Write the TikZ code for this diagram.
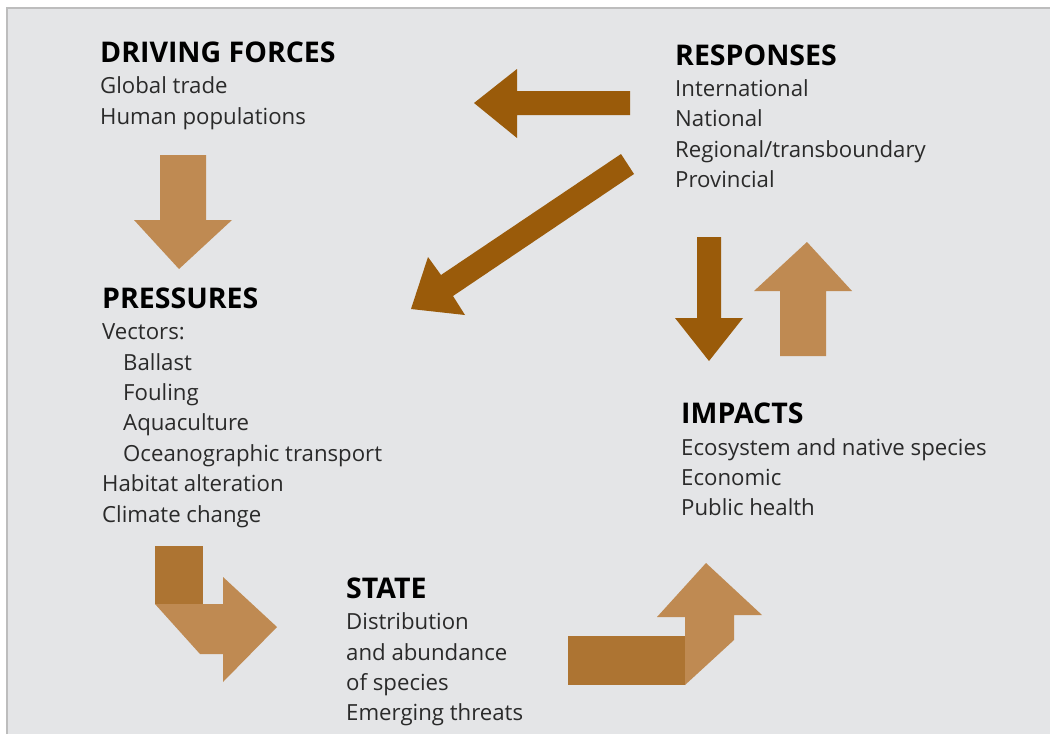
\documentclass[tikz,border=0pt]{standalone}
\usepackage{fontspec}
\setmainfont{Open Sans}
\definecolor{bg}{HTML}{E4E5E7}
\definecolor{frame}{HTML}{BDBDBD}
\definecolor{dark}{HTML}{9A5B0A}
\definecolor{light}{HTML}{BF8A52}
\definecolor{mid}{HTML}{AD7432}
\definecolor{txt}{HTML}{2A2A2A}
\begin{document}
\begin{tikzpicture}[x=1pt,y=-1pt,
  head/.style={anchor=base west, inner sep=0pt, text=black, font=\bfseries\fontsize{28.5}{30}\selectfont},
  body/.style={anchor=base west, inner sep=0pt, text=txt, font=\fontsize{22.2}{26}\selectfont}]
\useasboundingbox (0,0) rectangle (1050,734);
\fill[bg] (7,8) rectangle (1050,734);
\draw[frame, line width=2pt] (7,734) -- (7,8) -- (1050,8);

% DRIVING FORCES
\node[head] (df) at (100,62) {DRIVING FORCES};
\node[body] (df1) at (100,93) {Global trade};
\node[body] (df2) at (100,124) {Human populations};

% RESPONSES
\node[head] (re) at (675,65) {RESPONSES};
\node[body] (re1) at (675,96) {International};
\node[body] (re2) at (675,126) {National};
\node[body] (re3) at (675,157) {Regional/transboundary};
\node[body] (re4) at (675,187) {Provincial};

% PRESSURES
\node[head] (pr) at (102,308) {PRESSURES};
\node[body] (pr1) at (102,339) {Vectors:};
\node[body] (pr2) at (123,370) {Ballast};
\node[body] (pr3) at (123,400) {Fouling};
\node[body] (pr4) at (123,430) {Aquaculture};
\node[body] (pr5) at (123,461) {Oceanographic transport};
\node[body] (pr6) at (102,491) {Habitat alteration};
\node[body] (pr7) at (102,522) {Climate change};

% IMPACTS
\node[head] (im) at (681,423) {IMPACTS};
\node[body] (im1) at (681,455) {Ecosystem and native species};
\node[body] (im2) at (681,485) {Economic};
\node[body] (im3) at (681,515) {Public health};

% STATE
\node[head] (st) at (346,598) {STATE};
\node[body] (st1) at (346,629) {Distribution};
\node[body] (st2) at (346,660) {and abundance};
\node[body] (st3) at (346,690) {of species};
\node[body] (st4) at (346,720) {Emerging threats};

% Driving forces -> Pressures
\fill[light] (160,155) -- (206,155) -- (206,220) -- (232,220) -- (179,269) -- (134,220) -- (160,220) -- cycle;
% Responses -> Driving forces
\fill[dark] (630,91) -- (630,115) -- (517,115) -- (517,138) -- (474,103) -- (517,69) -- (517,91) -- cycle;
% Responses -> Pressures (diagonal)
\fill[dark] (621,154) -- (634,174) -- (453,296) -- (465,315) -- (411,309) -- (428,257) -- (441,275) -- cycle;
% Responses -> Impacts
\fill[dark] (697,237) -- (721,237) -- (721,318) -- (743,318) -- (709,361) -- (675,318) -- (697,318) -- cycle;
% Impacts -> Responses
\fill[light] (780,356) -- (826,356) -- (826,291) -- (852,291) -- (807,242) -- (754,291) -- (780,291) -- cycle;
% Pressures -> State
\fill[mid] (155,546) rectangle (203,604);
\fill[light] (155,604) -- (223,604) -- (223,577) -- (277,627) -- (223,682) -- (223,654) -- (200,654) -- cycle;
% State -> Impacts
\fill[mid] (568,636) rectangle (685,685);
\fill[light] (685,685) -- (685,617) -- (657,617) -- (706,563) -- (762,615) -- (734,615) -- (734,640) -- cycle;
\end{tikzpicture}
\end{document}
